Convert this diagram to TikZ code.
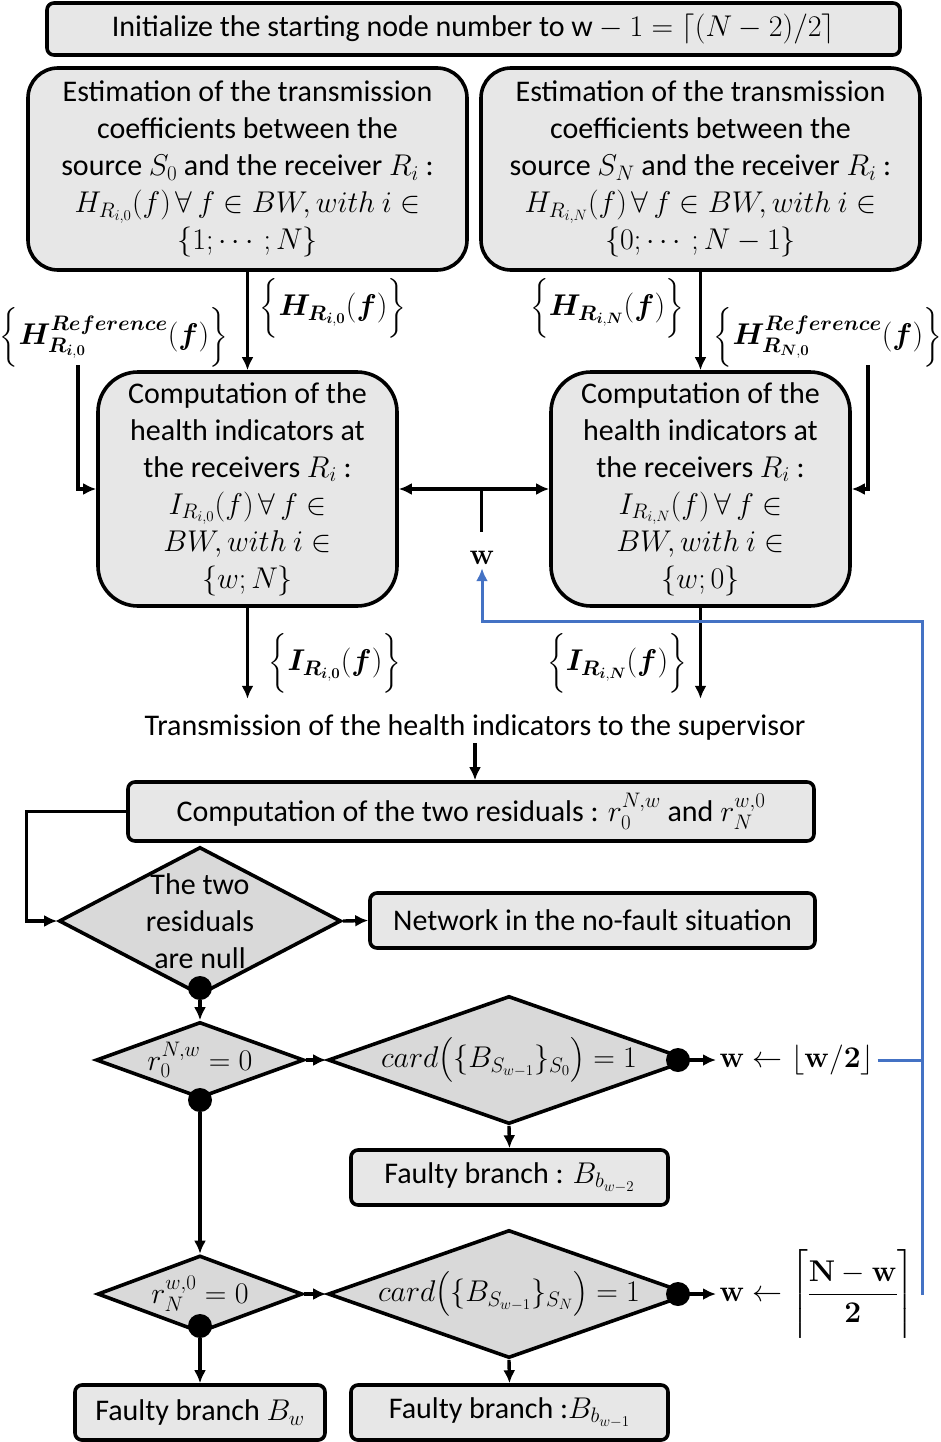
\RequirePackage{fix-cm}
\documentclass[tikz,border=0pt]{standalone}
\usepackage{amsmath}
\usepackage[no-math]{fontspec}
\setmainfont{Carlito}
\usetikzlibrary{arrows.meta, calc, shapes.geometric, positioning}
\definecolor{boxgray}{HTML}{E7E7E7}
\definecolor{diagray}{HTML}{D9D9D9}
\definecolor{loopblue}{HTML}{4472C4}
\DeclareMathAlphabet{\mathbi}{OML}{cmm}{b}{it}
\newcommand{\flowfont}{\fontsize{30}{37}\selectfont}
\tikzset{
  box/.style={draw, line width=3.6pt, fill=boxgray, rounded corners=7pt, align=center, inner sep=0pt},
  bigbox/.style={box, rounded corners=30pt},
  decision/.style={draw, diamond, line width=3.6pt, fill=diagray, inner sep=0pt},
  flow/.style={line width=3.4pt, ->},
  feedback/.style={line width=3pt, draw=loopblue, ->},
  dot/.style={circle, fill=black, minimum size=24pt, inner sep=0pt},
}

\begin{document}
\begin{tikzpicture}[x=1pt, y=-1pt, >={Latex[length=13pt,width=12pt]},
  every node/.style={font=\flowfont}]
  \useasboundingbox (0,0) rectangle (940,1442);
  % Starting node number
  \node[box, minimum width=853pt, minimum height=52pt] (init) at (473.5,29)
    {Initialize the starting node number to w${}-1=\lceil(N-2)/2\rceil$};
  % Estimation of the transmission coefficients
  \node[bigbox, minimum width=439pt, minimum height=202pt] (est0) at (247.5,169)
    {Estimation of the transmission\\coefficients between the\\source $S_0$ and the receiver $R_i$ :\\
     $H_{R_{i,0}}(f)\,\forall\,f\in BW,with\ i\in$\\$\{1;\cdots;N\}$};
  \node[bigbox, minimum width=439pt, minimum height=202pt] (estN) at (700.5,169)
    {Estimation of the transmission\\coefficients between the\\source $S_N$ and the receiver $R_i$ :\\
     $H_{R_{i,N}}(f)\,\forall\,f\in BW,with\ i\in$\\$\{0;\cdots;N-1\}$};
  % Health indicators
  \node[bigbox, rounded corners=40pt, minimum width=299pt, minimum height=234pt] (comp0) at (247.5,489)
    {Computation of the\\health indicators at\\the receivers $R_i$ :\\$I_{R_{i,0}}(f)\,\forall\,f\in$\\
     $BW,with\ i\in$\\$\{w;N\}$};
  \node[bigbox, rounded corners=40pt, minimum width=299pt, minimum height=234pt] (compN) at (700.5,489)
    {Computation of the\\health indicators at\\the receivers $R_i$ :\\$I_{R_{i,N}}(f)\,\forall\,f\in$\\
     $BW,with\ i\in$\\$\{w;0\}$};
  \node (h0) at (333,308)
    {$\Big\{\mathbi{H}_{\mathbi{R}_{\mathbi{i},\mathbf{0}}}(\mathbi{f})\Big\}$};
  \node (hN) at (607,308)
    {$\Big\{\mathbi{H}_{\mathbi{R}_{\mathbi{i},\mathbi{N}}}(\mathbi{f})\Big\}$};
  \node (href0) at (114,337)
    {$\Big\{\mathbi{H}^{\mathbi{Reference}}_{\mathbi{R}_{\mathbi{i},\mathbf{0}}}(\mathbi{f})\Big\}$};
  \node (hrefN) at (828,337)
    {$\Big\{\mathbi{H}^{\mathbi{Reference}}_{\mathbi{R}_{\mathbi{N},\mathbf{0}}}(\mathbi{f})\Big\}$};
  \node (i0) at (335,663)
    {$\Big\{\mathbi{I}_{\mathbi{R}_{\mathbi{i},\mathbf{0}}}(\mathbi{f})\Big\}$};
  \node (iN) at (617,663)
    {$\Big\{\mathbi{I}_{\mathbi{R}_{\mathbi{i},\mathbi{N}}}(\mathbi{f})\Big\}$};
  \coordinate (rin0) at (78,365);
  \coordinate (rinN) at (868,365);
  \node (wlab) at (482,558) {$\mathbf{w}$};
  \draw[flow] (est0.south) -- (comp0.north);
  \draw[flow] (estN.south) -- (compN.north);
  \draw[flow] (rin0) |- (comp0.west);
  \draw[flow] (rinN) |- (compN.east);
  \draw[flow, <->] (comp0.east) -- (compN.west) coordinate[pos=0.548] (wfork);
  \draw[line width=3.4pt] (wfork) -- ++(0,43);
  % Supervisor
  \node (trans) at (475,727) {Transmission of the health indicators to the supervisor};
  \draw[flow] (comp0.south) -- ++(0,91);
  \draw[flow] (compN.south) -- ++(0,91);
  \node[box, minimum width=686pt, minimum height=59pt] (resid) at (471,811.5)
    {Computation of the two residuals : $r_0^{N,w}$ and $r_N^{w,0}$};
  \draw[flow] (trans.south) -- (trans.south |- resid.north);
  % Decisions
  \node[decision, minimum width=282pt, minimum height=148pt,
    label={[align=center]center:{The two\\residuals\\are null}}] (null) at (200,921) {};
  \node[box, minimum width=445pt, minimum height=55pt] (nofault) at (592.5,920.5)
    {Network in the no-fault situation};
  \draw[flow] (resid.west) -- ++(-100,0) |- (null.west);
  \draw[flow] (null.east) -- (nofault.west);
  \node[decision, minimum width=208pt, minimum height=76pt,
    label=center:{$r_0^{N,w}=0$}] (r0) at (200,1060) {};
  \node[decision, minimum width=362pt, minimum height=128pt,
    label=center:{$card\big(\{B_{S_{w-1}}\}_{S_0}\big)=1$}] (card0) at (509,1060) {};
  \node[box, minimum width=317pt, minimum height=55pt] (fb0) at (509.5,1177.5)
    {Faulty branch : $B_{b_{w-2}}$};
  \node[decision, minimum width=205pt, minimum height=77pt,
    label=center:{$r_N^{w,0}=0$}] (rN) at (200,1294) {};
  \node[decision, minimum width=362pt, minimum height=128pt,
    label=center:{$card\big(\{B_{S_{w-1}}\}_{S_N}\big)=1$}] (cardN) at (509,1294) {};
  \node[box, minimum width=250pt, minimum height=55pt] (fbw) at (200,1412.5) {Faulty branch $B_w$};
  \node[box, minimum width=317pt, minimum height=55pt] (fb1) at (509.5,1412.5)
    {Faulty branch :$B_{b_{w-1}}$};
  % New value of w
  \node[anchor=west] (wup0) at (716,1060) {$\mathbf{w}\leftarrow\lfloor\mathbf{w/2}\rfloor$};
  \node[anchor=west] (wupN) at (716,1294)
    {$\mathbf{w}\leftarrow\Bigg\lceil\dfrac{\mathbf{N-w}}{\mathbf{2}}\Bigg\rceil$};
  % Junction dots
  \node[dot] (d1) at (200,988) {};
  \node[dot] (d2) at (200,1100) {};
  \node[dot] (d3) at (678,1060) {};
  \node[dot] (d4) at (200,1326) {};
  \node[dot] (d5) at (678,1294) {};
  \draw[flow] (d1) -- (r0.north);
  \draw[flow] (r0.east) -- (card0.west);
  \draw[flow] (d2) -- (rN.north);
  \draw[flow] (d3) -- (wup0.west);
  \draw[flow] (card0.south) -- (fb0.north);
  \draw[flow] (rN.east) -- (cardN.west);
  \draw[flow] (d4) -- (fbw.north);
  \draw[flow] (cardN.south) -- (fb1.north);
  \draw[flow] (d5) -- (wupN.west);
  % Loop back to w
  \coordinate (bN) at (922,1295);
  \coordinate (bturn) at (482,621);
  \draw[feedback] (bN) |- (bturn) -- (wlab.south);
  \draw[line width=3pt, loopblue] (wup0.east) -- (wup0.east -| bN);
\end{tikzpicture}
\end{document}
